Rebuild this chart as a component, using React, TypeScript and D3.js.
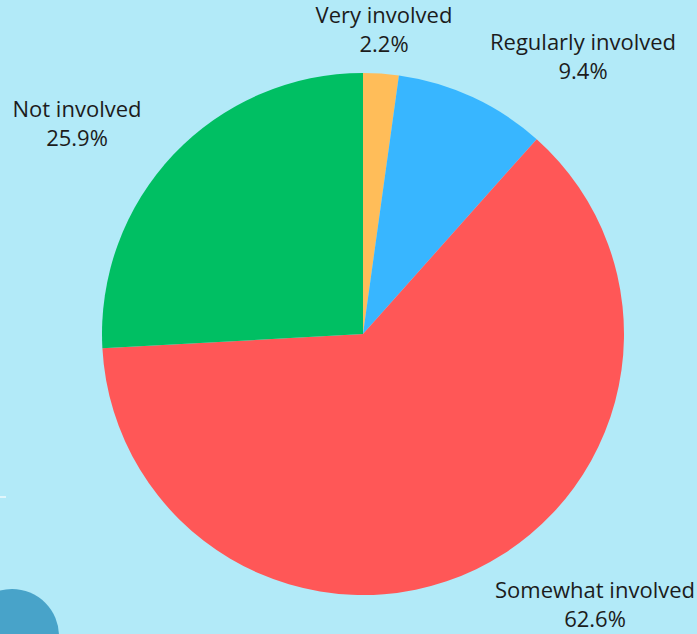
import React from "react";
import * as d3 from "d3";

const categories = ["Very involved", "Regularly involved", "Somewhat involved", "Not involved"];
const values = [2.2, 9.4, 62.6, 25.9];
const valueLabels = ["2.2%", "9.4%", "62.6%", "25.9%"];
const colors = ["#ffbd59", "#38b6ff", "#ff5757", "#00bf63"];

// label anchor (centre of first line baseline) per category
const labelPos: [number, number][] = [
  [384, 23],
  [583, 50],
  [595, 598],
  [77, 117],
];

const W = 697;
const H = 634;
const cx = 363;
const cy = 334;
const R = 261;

export default function App() {
  const pie = d3.pie<number>().sort(null).value((d) => d);
  const arcs = pie(values);
  const arc = d3.arc<d3.PieArcDatum<number>>().innerRadius(0).outerRadius(R);

  return (
    <svg
      width={W}
      height={H}
      style={{ position: "absolute", left: 0, top: 0, display: "block" }}
    >
      <rect x={0} y={0} width={W} height={H} fill="#b2eaf8" />
      <line x1={0} y1={497} x2={6} y2={497} stroke="#ffffff" strokeWidth={1.5} opacity={0.8} />
      <circle cx={12} cy={636} r={47} fill="#48a3c9" />
      <g transform={`translate(${cx},${cy})`}>
        {arcs.map((a, i) => (
          <path key={i} d={arc(a) || ""} fill={colors[i]} />
        ))}
      </g>
      {categories.map((c, i) => (
        <text
          key={c}
          x={labelPos[i][0]}
          y={labelPos[i][1]}
          textAnchor="middle"
          fontFamily="'Open Sans', sans-serif"
          fontSize={22}
          fill="#1c1c1c"
        >
          <tspan x={labelPos[i][0]}>{c}</tspan>
          <tspan x={labelPos[i][0]} dy={29}>{valueLabels[i]}</tspan>
        </text>
      ))}
    </svg>
  );
}
